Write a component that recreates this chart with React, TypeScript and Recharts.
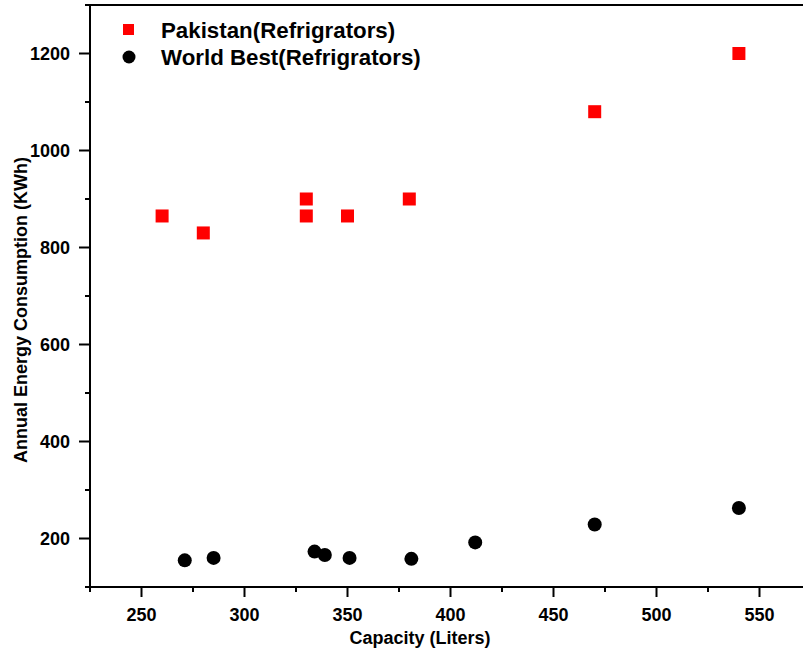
import React from 'react';
import { ScatterChart, Scatter, XAxis, YAxis, ReferenceLine } from 'recharts';

const FONT = '"Liberation Sans", Arial, sans-serif';

const PAKISTAN_CAPACITY = [260, 280, 330, 330, 350, 380, 470, 540];
const PAKISTAN_ENERGY = [865, 830, 900, 865, 865, 900, 1080, 1200];

const WORLD_CAPACITY = [271, 285, 334, 339, 351, 381, 412, 470, 540];
const WORLD_ENERGY = [155, 160, 173, 166, 160, 158, 192, 229, 263];

const X_TICKS = [225, 250, 275, 300, 325, 350, 375, 400, 425, 450, 475, 500, 525, 550, 575];
const Y_TICKS = [100, 200, 300, 400, 500, 600, 700, 800, 900, 1000, 1100, 1200, 1300];

const SERIES_NAMES = ['Pakistan(Refrigrators)', 'World Best(Refrigrators)'];

const pakistanData = PAKISTAN_CAPACITY.map((x, i) => ({ x, y: PAKISTAN_ENERGY[i] }));
const worldData = WORLD_CAPACITY.map((x, i) => ({ x, y: WORLD_ENERGY[i] }));

const XTick = ({ x, y, payload }: any) => {
  const major = payload.value % 50 === 0;
  return (
    <g>
      <line x1={x} x2={x} y1={y} y2={y + (major ? 10 : 5)} stroke="#000" strokeWidth={2} />
      {major && (
        <text x={x} y={y + 34} textAnchor="middle" fontFamily={FONT} fontWeight="bold" fontSize={18} fill="#000">
          {payload.value}
        </text>
      )}
    </g>
  );
};

const YTick = ({ x, y, payload }: any) => {
  const major = payload.value % 200 === 0;
  return (
    <g>
      <line x1={x} x2={x - (major ? 11 : 5)} y1={y} y2={y} stroke="#000" strokeWidth={2} />
      {major && (
        <text x={x - 20} y={y} dy="0.35em" textAnchor="end" fontFamily={FONT} fontWeight="bold" fontSize={18} fill="#000">
          {payload.value}
        </text>
      )}
    </g>
  );
};

const Square = ({ cx, cy }: any) => <rect x={cx - 6.5} y={cy - 6.5} width={13} height={13} fill="#ff0000" />;
const Dot = ({ cx, cy }: any) => <circle cx={cx} cy={cy} r={7} fill="#000" />;

const App: React.FC = () => {
  return (
    <div style={{ position: 'absolute', left: 0, top: 0, width: 803, height: 655, overflow: 'hidden', background: '#fff' }}>
      <ScatterChart width={812} height={655} margin={{ top: 5, right: 1, bottom: 0, left: 0 }}>
        <XAxis
          type="number"
          dataKey="x"
          domain={[225, 575]}
          ticks={X_TICKS}
          interval={0}
          height={68}
          tickSize={0}
          tickMargin={0}
          tick={<XTick />}
          axisLine={{ stroke: '#000', strokeWidth: 2 }}
          tickLine={false}
        />
        <YAxis
          type="number"
          dataKey="y"
          domain={[100, 1300]}
          ticks={Y_TICKS}
          interval={0}
          width={90}
          tickSize={0}
          tickMargin={0}
          tick={<YTick />}
          axisLine={{ stroke: '#000', strokeWidth: 2 }}
          tickLine={false}
        />
        <ReferenceLine y={1300} stroke="#000" strokeWidth={2} />
        <Scatter name={SERIES_NAMES[0]} data={pakistanData} fill="#ff0000" shape={<Square />} isAnimationActive={false} />
        <Scatter name={SERIES_NAMES[1]} data={worldData} fill="#000" shape={<Dot />} isAnimationActive={false} />

        {/* legend */}
        <rect x={123} y={24} width={11} height={11} fill="#ff0000" />
        <text x={161} y={30} dy="0.35em" fontFamily={FONT} fontWeight="bold" fontSize={22.3} fill="#000">
          {SERIES_NAMES[0]}
        </text>
        <circle cx={129} cy={57} r={6.5} fill="#000" />
        <text x={161} y={57} dy="0.35em" fontFamily={FONT} fontWeight="bold" fontSize={22.3} fill="#000">
          {SERIES_NAMES[1]}
        </text>

        <text x={420} y={644} textAnchor="middle" fontFamily={FONT} fontWeight="bold" fontSize={18} fill="#000">
          Capacity (Liters)
        </text>
        <text
          x={21}
          y={310}
          transform="rotate(-90, 21, 310)"
          textAnchor="middle"
          dominantBaseline="central"
          fontFamily={FONT}
          fontWeight="bold"
          fontSize={18}
          fill="#000"
        >
          Annual Energy Consumption (KWh)
        </text>
      </ScatterChart>
    </div>
  );
};

export default App;
